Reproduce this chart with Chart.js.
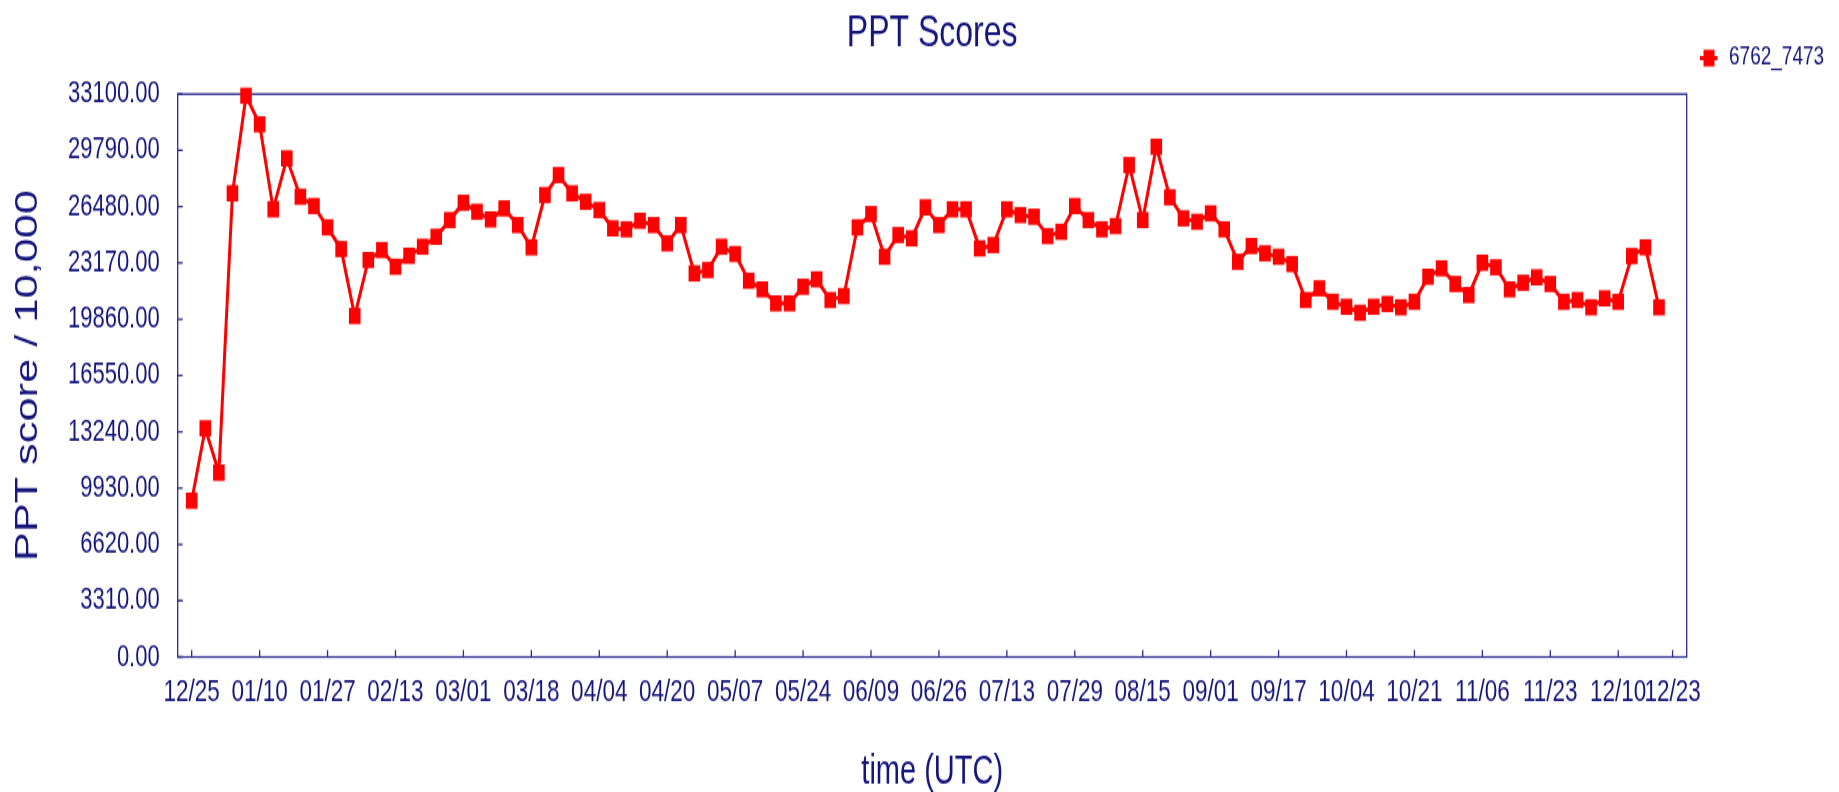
<!DOCTYPE html>
<html>
<head>
<meta charset="utf-8">
<script src="https://cdn.jsdelivr.net/npm/chart.js@4/dist/chart.umd.min.js"></script>
<style>
html,body{margin:0;padding:0;background:#fff;width:1839px;height:792px;}
#outer{position:relative;width:1839px;height:792px;overflow:hidden;}
#wrap{position:absolute;left:0;top:0;width:1839px;height:566px;transform:scaleY(1.39929);transform-origin:0 0;}
canvas{display:block;}
</style>
</head>
<body>
<div id="outer"><div id="wrap"><canvas id="c" width="1839" height="566"></canvas></div></div>
<script>
// ---- data ----
const seriesName = "6762_7473";
const scores = [
  9189, 13445, 10835, 27261, 33000, 31317, 26320, 29318, 27062, 26514,
  25262, 23986, 20047, 23340, 23928, 22946, 23593, 24122, 24710, 25691,
  26710, 26180, 25730, 26377, 25397, 24086, 27161, 28337, 27261, 26768,
  26279, 25203, 25144, 25650, 25397, 24322, 25397, 22558, 22752, 24122,
  23693, 22123, 21617, 20794, 20794, 21770, 22205, 20988, 21223, 25262,
  26044, 23534, 24809, 24615, 26438, 25397, 26320, 26320, 24027, 24222,
  26320, 25985, 25885, 24750, 25003, 26514, 25691, 25144, 25338, 28924,
  25691, 30001, 27026, 25791, 25591, 26085, 25144, 23240, 24163, 23733,
  23534, 23104, 20988, 21676, 20890, 20594, 20241, 20594, 20753, 20559,
  20888, 22358, 22852, 21929, 21282, 23182, 22911, 21617, 22005, 22323,
  21929, 20888, 20988, 20559, 21088, 20888, 23575, 24086, 20559
];
// x tick positions (in sample index units) and their date labels
const xTickPositions = [0, 5, 10, 15, 20, 25, 30, 35, 40, 45, 50, 55, 60, 65, 70, 75, 80, 85, 90, 95, 100, 105, 109];
const xTickLabels = ["12/25","01/10","01/27","02/13","03/01","03/18","04/04","04/20","05/07","05/24","06/09","06/26","07/13","07/29","08/15","09/01","09/17","10/04","10/21","11/06","11/23","12/10","12/23"];
const yTickValues = [0, 3310, 6620, 9930, 13240, 16550, 19860, 23170, 26480, 29790, 33100];

const navy = '#15157c';
const axisColor = '#2a2a90';
const red = '#ff0000';
const fontFam = "'Liberation Sans', Arial, Helvetica, sans-serif";

const frameAndTicks = {
  id: 'frameAndTicks',
  beforeDatasetsDraw(chart) {
    const {ctx, chartArea: a, scales: {x, y}} = chart;
    ctx.save();
    ctx.strokeStyle = axisColor;
    ctx.lineWidth = 1.3;
    ctx.strokeRect(a.left, a.top, a.right - a.left, a.bottom - a.top);
    ctx.beginPath();
    x.ticks.forEach(t => {
      const px = x.getPixelForValue(t.value);
      ctx.moveTo(px, a.bottom); ctx.lineTo(px, a.bottom - 5);
    });
    y.ticks.forEach(t => {
      const py = y.getPixelForValue(t.value);
      ctx.moveTo(a.left, py); ctx.lineTo(a.left + 5, py);
    });
    ctx.stroke();
    ctx.restore();
  },
  afterDraw(chart) {
    const ctx = chart.ctx;
    const ds = chart.data.datasets[0];
    ctx.save();
    ctx.strokeStyle = ds.borderColor;
    ctx.lineWidth = 3;
    ctx.beginPath();
    ctx.moveTo(1700, 41.5); ctx.lineTo(1717.5, 41.5);
    ctx.stroke();
    ctx.fillStyle = ds.backgroundColor;
    ctx.fillRect(1703.5, 35.5, 11, 12);
    ctx.fillStyle = navy;
    ctx.font = "19px " + fontFam;
    ctx.textBaseline = 'middle';
    ctx.textAlign = 'left';
    ctx.fillText(ds.label, 1729, 40.5);
    ctx.restore();
  }
};

new Chart(document.getElementById('c'), {
  type: 'line',
  data: {
    datasets: [{
      label: seriesName,
      data: scores.map((v, i) => ({x: i, y: v})),
      borderColor: red,
      backgroundColor: red,
      borderWidth: 3,
      pointStyle: 'rect',
      pointRadius: 8.2,
      pointHoverRadius: 8.2,
      pointBorderWidth: 0,
      tension: 0,
      clip: false
    }]
  },
  options: {
    responsive: false,
    animation: false,
    devicePixelRatio: 1,
    layout: {padding: {left: 0, right: 152.3, top: 0, bottom: 0}},
    plugins: {
      legend: {display: false},
      tooltip: {enabled: false},
      title: {
        display: true,
        text: 'PPT Scores',
        fullSize: false,
        color: navy,
        font: {family: fontFam, size: 32, weight: 'normal'},
        padding: {top: 4.5, bottom: 24.3}
      }
    },
    scales: {
      x: {
        type: 'linear',
        min: -1.03,
        max: 110.04,
        grid: {display: false, drawTicks: false},
        border: {display: false},
        afterBuildTicks: s => { s.ticks = xTickPositions.map(v => ({value: v})); },
        afterFit: s => { s.height = 96.5; },
        ticks: {
          autoSkip: false,
          maxRotation: 0,
          minRotation: 0,
          padding: 12,
          color: navy,
          font: {family: fontFam, size: 22.5},
          callback: (v, i) => xTickLabels[i]
        },
        title: {
          display: true,
          text: 'time (UTC)',
          color: navy,
          font: {family: fontFam, size: 29},
          padding: {top: 0, bottom: -3.4}
        }
      },
      y: {
        type: 'linear',
        min: 0,
        max: 33100,
        grid: {display: false, drawTicks: false},
        border: {display: false},
        afterBuildTicks: s => { s.ticks = yTickValues.map(v => ({value: v})); },
        afterFit: s => { s.width = 177.7; },
        ticks: {
          padding: 18,
          color: navy,
          font: {family: fontFam, size: 22},
          callback: v => Number(v).toFixed(2)
        },
        title: {
          display: true,
          text: 'PPT score / 10,000',
          color: navy,
          font: {family: fontFam, size: 31},
          padding: {top: 10, bottom: 4}
        }
      }
    }
  },
  plugins: [frameAndTicks]
});
</script>
</body>
</html>
